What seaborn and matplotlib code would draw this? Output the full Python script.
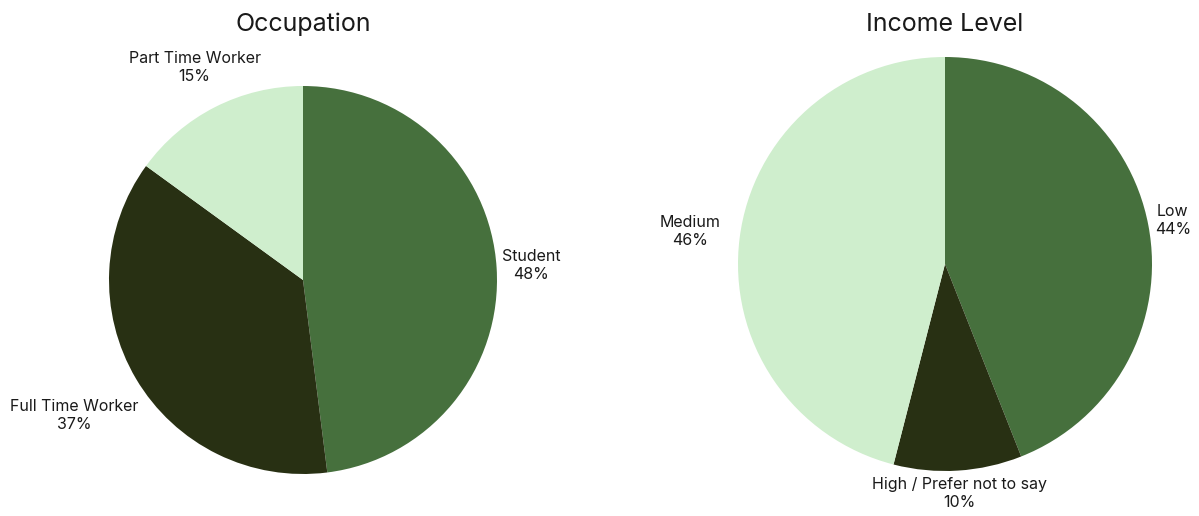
import numpy as np
import matplotlib
matplotlib.use("Agg")
import matplotlib.pyplot as plt
import seaborn as sns

# Survey breakdowns
occupation_labels = ["Student", "Full Time Worker", "Part Time Worker"]
occupation_values = [48, 37, 15]

income_labels = ["Low", "High / Prefer not to say", "Medium"]
income_values = [44, 10, 46]

# Styling
sns.set_theme(style="white")
plt.rcParams["font.family"] = ["Inter", "DejaVu Sans"]
palette = ["#46703d", "#283013", "#cfeecd"]
text_color = "#1a1a1a"

W, H = 1199, 516
fig = plt.figure(figsize=(W / 100, H / 100), dpi=100)
fig.patch.set_facecolor("white")


def pie_axes(cx, cy, r):
    """Square axes centred at pixel (cx, cy) with pixel radius r."""
    return fig.add_axes([(cx - r) / W, (H - cy - r) / H, 2 * r / W, 2 * r / H])


def draw_pie(ax, labels, values, label_radius, title, title_y):
    ax.pie(values, colors=palette, startangle=90, counterclock=False,
           radius=1.0, wedgeprops=dict(linewidth=0))
    ax.set_xlim(-1, 1)
    ax.set_ylim(-1, 1)
    ax.set_aspect("equal")
    ax.axis("off")
    total = float(sum(values))
    start = 90.0
    for lab, val, rr in zip(labels, values, label_radius):
        span = 360.0 * val / total
        mid = np.deg2rad(start - span / 2)
        start -= span
        ax.text(rr * np.cos(mid), rr * np.sin(mid), f"{lab}\n{val}%",
                ha="center", va="center", multialignment="center",
                fontsize=11.5, color=text_color, linespacing=1.25,
                clip_on=False)
    bbox = ax.get_position()
    fig.text((bbox.x0 + bbox.x1) / 2, title_y, title, ha="center",
             va="baseline", fontsize=18, color=text_color)


ax1 = pie_axes(303, 280, 194)
draw_pie(ax1, occupation_labels, occupation_values, [1.18, 1.37, 1.23],
         "Occupation", 1 - 31 / H)

ax2 = pie_axes(945, 264, 207)
draw_pie(ax2, income_labels, income_values, [1.12, 1.11, 1.24],
         "Income Level", 1 - 31 / H)

fig.savefig("out.png", dpi=100, facecolor="white")
